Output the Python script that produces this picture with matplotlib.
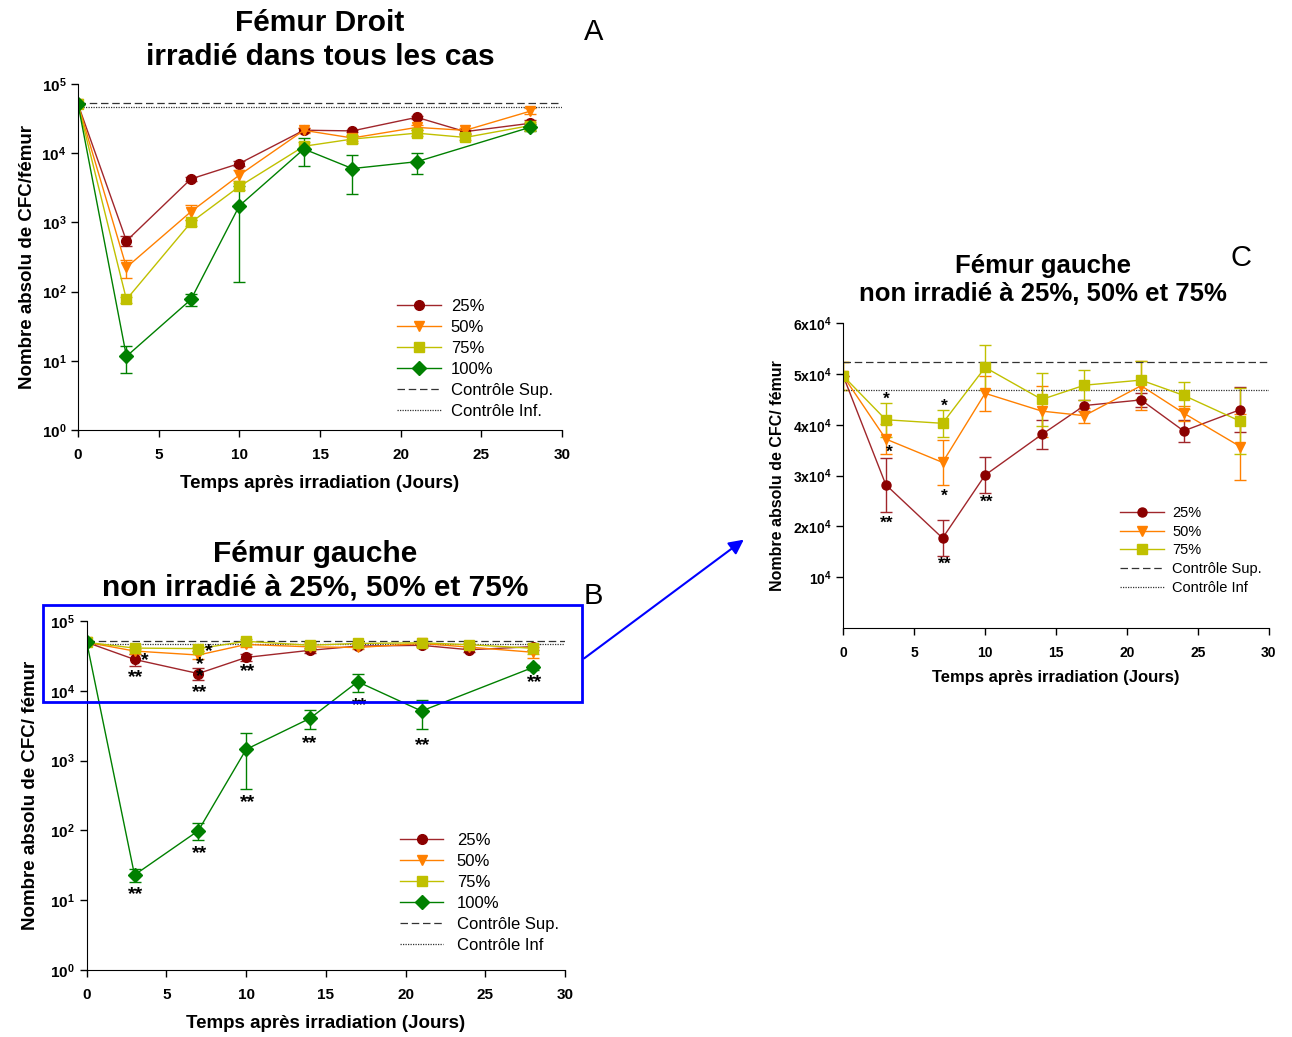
import numpy as np
import matplotlib
matplotlib.use('Agg')
import matplotlib.pyplot as plt
from matplotlib.patches import Rectangle, FancyArrowPatch
from matplotlib.lines import Line2D

plt.rcParams['font.family'] = ['Liberation Sans', 'DejaVu Sans']
plt.rcParams['mathtext.fontset'] = 'custom'
plt.rcParams['mathtext.rm'] = 'Liberation Sans'
plt.rcParams['mathtext.bf'] = 'Liberation Sans:bold'

# ---- data ----
# panel A : femur droit (irradiated)
days = [0, 3, 7, 10, 14, 17, 21, 24, 28]
days100 = [0, 3, 7, 10, 14, 17, 21, 28]

a25 = [5.1e4, 540, 4250, 7100, 21500, 21000, 33000, 20500, 27000]
a25_err = [0, 90, 300, 500, 1500, 1000, 2000, 1500, 3000]
a50 = [5.1e4, 224, 1430, 4830, 21400, 16600, 23600, 21400, 40300]
a50_err = [0, 65, 350, 800, 1500, 1500, 2000, 1500, 4000]
a75 = [5.1e4, 77, 1000, 3310, 12600, 16000, 19500, 16900, 25000]
a75_err = [0, 8, 100, 400, 2000, 2000, 2000, 1500, 3000]
a100 = [5.1e4, 11.6, 77, 1740, 11500, 6000, 7540, 23600]
a100_err = [0, 5, 15, 1600, 5000, 3400, 2500, 3000]

# panel B/C : femur gauche (25/50/75 shared)
g25 = [4.96e4, 2.82e4, 1.77e4, 3.01e4, 3.81e4, 4.38e4, 4.49e4, 3.88e4, 4.30e4]
g25_err = [0, 0.53e4, 0.35e4, 0.35e4, 0.29e4, 0.1e4, 0.14e4, 0.22e4, 0.45e4]
g50 = [4.96e4, 3.72e4, 3.26e4, 4.62e4, 4.27e4, 4.18e4, 4.77e4, 4.23e4, 3.57e4]
g50_err = [0.27e4, 0.3e4, 0.44e4, 0.35e4, 0.5e4, 0.15e4, 0.48e4, 0.15e4, 0.65e4]
g75 = [4.96e4, 4.10e4, 4.03e4, 5.13e4, 4.50e4, 4.78e4, 4.88e4, 4.58e4, 4.07e4]
g75_err = [0.27e4, 0.33e4, 0.26e4, 0.45e4, 0.52e4, 0.29e4, 0.38e4, 0.27e4, 0.65e4]
g100 = [5.0e4, 23, 99, 1450, 4030, 13500, 5140, 21700]
g100_err = [0, 5, 27, 1060, 1200, 4000, 2270, 2000]

ctrl_sup = 5.24e4
ctrl_inf = 4.69e4

# significance marks (x, y, text)
stars_b = [(3.66, 26900, '*'), (3.05, 15500, '**'), (7.67, 36300, '*'), (7.1, 24000, '*'),
           (7.1, 16000, '*'), (7.1, 9500, '**'), (10.08, 19100, '**'), (14.0, 1780, '**'),
           (17.1, 6150, '**'), (21.07, 1670, '**'), (28.1, 13200, '**'),
           (3.05, 12, '**'), (7.1, 46, '**'), (10.08, 251, '**')]
stars_c = [(3.06, 4.50e4, '*'), (3.24, 3.45e4, '*'), (3.06, 2.06e4, '**'),
           (7.12, 4.36e4, '*'), (7.12, 2.60e4, '*'), (7.12, 1.26e4, '**'),
           (10.1, 2.47e4, '**')]

c_25 = '#8B0000'
c_25l = '#A0262B'
c_50 = '#FF8000'
c_75 = '#C0C000'
c_100 = '#008000'

series_style = [('25%', c_25, 'o'), ('50%', c_50, 'v'), ('75%', c_75, 's'), ('100%', c_100, 'D')]


def draw(ax, xs_list, ys_list, errs_list, styles, ms=7):
	for xs, ys, es, (lab, col, mk) in zip(xs_list, ys_list, errs_list, styles):
		lc = c_25l if col == c_25 else col
		ax.errorbar(xs, ys, yerr=es, color=lc, ecolor=lc, elinewidth=1, capsize=4, capthick=1,
			lw=1, marker=mk, ms=ms, mfc=col, mec=col)


def ctrl(ax, x0=0, x1=30):
	ax.plot([x0, x1], [ctrl_sup, ctrl_sup], color='#333333', ls=(0, (6, 3)), lw=0.9)
	ax.plot([x0, x1], [ctrl_inf, ctrl_inf], color='#333333', ls=(0, (1, 1)), lw=0.9)


def leg_handles(styles, inf_label, ms=7):
	hs = []
	for lab, col, mk in styles:
		lc = c_25l if col == c_25 else col
		hs.append(Line2D([], [], color=lc, lw=1, marker=mk, ms=ms, mfc=col, mec=col, label=lab))
	hs.append(Line2D([], [], color='#333333', ls=(0, (6, 3)), lw=0.9, label='Contrôle Sup.'))
	hs.append(Line2D([], [], color='#333333', ls=(0, (1, 1)), lw=0.9, label=inf_label))
	return hs


def style(ax, fs):
	for s in ['top', 'right']:
		ax.spines[s].set_visible(False)
	ax.tick_params(direction='out', length=5, width=1)
	ax.tick_params(axis='x', pad=8)
	ax.set_xlim(0, 30)
	ax.set_xticks([0, 5, 10, 15, 20, 25, 30])
	ax.set_xticklabels(['0', '5', '10', '15', '20', '25', '30'], fontsize=fs, fontweight='bold')


fig = plt.figure(figsize=(12.92, 10.37), dpi=100)

logticks = [1, 10, 100, 1000, 1e4, 1e5]
loglabels = [r'$\mathbf{10^{%d}}$' % i for i in range(6)]

# ---- panel A ----
axA = fig.add_axes([0.0604, 0.5853, 0.3746, 0.3337])
draw(axA, [days, days, days, days100], [a25, a50, a75, a100], [a25_err, a50_err, a75_err, a100_err], series_style)
ctrl(axA)
axA.set_yscale('log')
axA.set_ylim(1, 1e5)
style(axA, 11)
axA.set_yticks(logticks)
axA.set_yticklabels(loglabels, fontsize=11)
axA.minorticks_off()
axA.set_xlabel('Temps après irradiation (Jours)', fontsize=13.5, fontweight='bold', labelpad=9)
axA.set_ylabel('Nombre absolu de CFC/fémur', fontsize=13.5, fontweight='bold', labelpad=4)
fig.text(320 / 1292, 1 - 40 / 1037, 'Fémur Droit\nirradié dans tous les cas', fontsize=21.5,
	fontweight='bold', ha='center', va='center', linespacing=1.25)
axA.legend(handles=leg_handles(series_style, 'Contrôle Inf.'), loc='upper left', bbox_to_anchor=(0.66, 0.378),
	frameon=False, fontsize=12, labelspacing=0.36, handlelength=2.6, handletextpad=0.6,
	borderpad=0, borderaxespad=0)
fig.text(594 / 1292, 1 - 32 / 1037, 'A', fontsize=21, ha='center', va='center')

# ---- panel B ----
axB = fig.add_axes([0.0671, 0.0646, 0.3702, 0.3365])
draw(axB, [days, days, days, days100], [g25, g50, g75, g100], [g25_err, g50_err, g75_err, g100_err], series_style)
ctrl(axB)
axB.set_yscale('log')
axB.set_ylim(1, 1e5)
style(axB, 11)
axB.set_yticks(logticks)
axB.set_yticklabels(loglabels, fontsize=11)
axB.minorticks_off()
axB.set_xlabel('Temps après irradiation (Jours)', fontsize=13.5, fontweight='bold', labelpad=9)
axB.set_ylabel('Nombre absolu de CFC/ fémur', fontsize=13.5, fontweight='bold', labelpad=8)
fig.text(315 / 1292, 1 - 571 / 1037, 'Fémur gauche\nnon irradié à 25%, 50% et 75%', fontsize=21.5,
	fontweight='bold', ha='center', va='center', linespacing=1.25)
for x, y, t in stars_b:
	axB.text(x, y, t, fontsize=14, fontweight='bold', ha='center', va='center')
axB.legend(handles=leg_handles(series_style, 'Contrôle Inf'), loc='upper left', bbox_to_anchor=(0.655, 0.393),
	frameon=False, fontsize=12, labelspacing=0.36, handlelength=2.6, handletextpad=0.8,
	borderpad=0, borderaxespad=0)
fig.text(593 / 1292, 1 - 596 / 1037, 'B', fontsize=21, ha='center', va='center')

# blue zoom box + arrow
fig.patches.append(Rectangle((43 / 1292, 1 - 702 / 1037), (582 - 43) / 1292, 97 / 1037,
	transform=fig.transFigure, fill=False, ec='#0000FF', lw=2, zorder=10))
fig.patches.append(FancyArrowPatch((582 / 1292, 1 - 660 / 1037), (746 / 1292, 1 - 538 / 1037),
	transform=fig.transFigure, arrowstyle='-|>', mutation_scale=22, color='#0000FF', lw=1.5, zorder=10))

# ---- panel C ----
axC = fig.add_axes([0.6527, 0.3944, 0.3293, 0.2939])
draw(axC, [days, days, days], [g25, g50, g75], [g25_err, g50_err, g75_err], series_style[:3], ms=6.5)
ctrl(axC)
axC.set_ylim(0, 6e4)
style(axC, 10)
axC.set_yticks([1e4, 2e4, 3e4, 4e4, 5e4, 6e4])
axC.set_yticklabels([r'$\mathbf{10^{4}}$'] + [r'$\mathbf{%dx10^{4}}$' % i for i in range(2, 7)], fontsize=10)
axC.set_xlabel('Temps après irradiation (Jours)', fontsize=12, fontweight='bold', labelpad=7)
axC.set_ylabel('Nombre absolu de CFC/ fémur', fontsize=11.5, fontweight='bold', labelpad=6)
fig.text(1043 / 1292, 1 - 280 / 1037, 'Fémur gauche\nnon irradié à 25%, 50% et 75%', fontsize=18.5,
	fontweight='bold', ha='center', va='center', linespacing=1.2)
for x, y, t in stars_c:
	axC.text(x, y, t, fontsize=12.5, fontweight='bold', ha='center', va='center')
axC.legend(handles=leg_handles(series_style[:3], 'Contrôle Inf', ms=6.5), loc='upper left',
	bbox_to_anchor=(0.65, 0.4), frameon=False, fontsize=10.5, labelspacing=0.32, handlelength=3.0,
	handletextpad=0.6, borderpad=0, borderaxespad=0)
fig.text(1241 / 1292, 1 - 258 / 1037, 'C', fontsize=21, ha='center', va='center')

fig.savefig('out.png', dpi=100)
